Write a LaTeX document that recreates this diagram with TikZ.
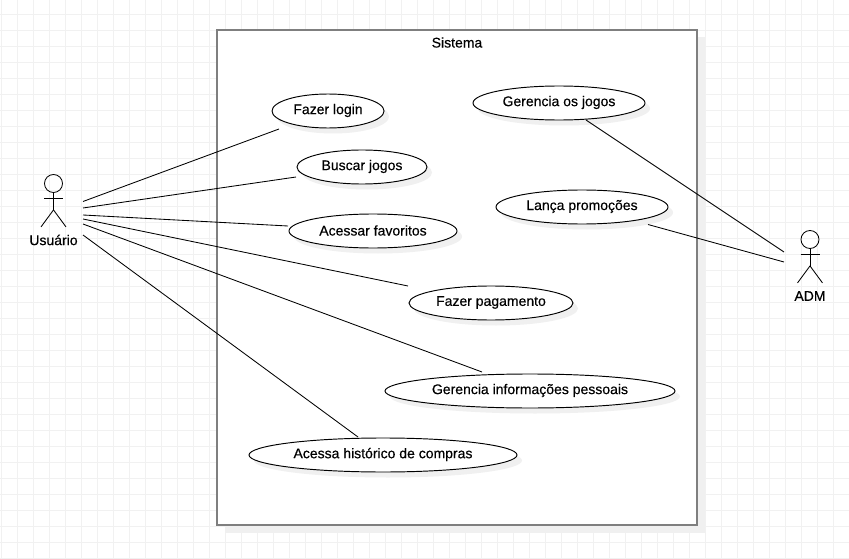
\documentclass[tikz,border=0pt]{standalone}
\usepackage{fontspec}
\setmainfont{Liberation Sans}[RawFeature={embolden=0.35}]
\definecolor{gridc}{HTML}{F1F1F1}
\definecolor{shadowc}{HTML}{F0F0F0}
\definecolor{sysc}{HTML}{7F7F7F}
\tikzset{
  x=1pt,y=-1pt,
  label/.style={font=\fontsize{14}{16}\selectfont,inner sep=0pt},
  link/.style={draw=black,line width=0.85pt},
  stick/.style={draw=black,line width=0.85pt},
  ucshape/.style={draw=black,line width=0.95pt,fill=white},
  ucshadow/.style={fill=shadowc,draw=none},
}
\newcommand{\ucase}[6]{% name, cx, cy, rx, ry, text
  \fill[ucshadow] (#2+5,#3+6) ellipse [x radius=#4,y radius=#5];
  \draw[ucshape] (#2,#3+0.5) ellipse [x radius=#4,y radius=#5];
  \node[label,text=black] (#1) at (#2,#3) {#6};
}
\newcommand{\stickman}[3]{% name, cx, head cy
  \node[circle,stick,minimum size=18pt,inner sep=0pt] (#1) at (#2,#3) {};
  \draw[stick] (#1.south) -- ++(0,17) coordinate (#1hip);
  \draw[stick] (#2-9.5,#3+15) -- (#2+9.5,#3+15);
  \draw[stick] (#1hip) -- ++(-12.5,17);
  \draw[stick] (#1hip) -- ++(12.5,17);
}
\begin{document}
\begin{tikzpicture}
\useasboundingbox (0,0) rectangle (849,559);
\fill[white] (0,0) rectangle (849,559);
\foreach \k in {0,...,53} \draw[gridc,line width=1pt] ({1.7+16*\k},0) -- ({1.7+16*\k},559);
\foreach \k in {1,...,35} \draw[gridc,line width=1pt] (0,{-1.3+16*\k}) -- (849,{-1.3+16*\k});
% system
\fill[shadowc] (224.5,37.5) rectangle (704.5,532.5);
\node[draw=sysc,line width=2pt,fill=white,inner sep=0pt,minimum width=480pt,minimum height=495pt,anchor=north west] (sys) at (216.2,29.2) {};
\node[label,text=black] (systitle) at (457,42.5) {Sistema};
% use cases
\ucase{login}{328}{110.5}{56}{17}{Fazer login}
\ucase{buscar}{362}{166.5}{65}{17}{Buscar jogos}
\ucase{fav}{373}{230.5}{84}{17}{Acessar favoritos}
\ucase{pag}{491}{302.5}{82}{17}{Fazer pagamento}
\ucase{info}{530}{390.5}{145}{17}{Gerencia informações pessoais}
\ucase{hist}{383}{454.5}{134}{17}{Acessa histórico de compras}
\ucase{jogos}{559}{102.5}{86}{17}{Gerencia os jogos}
\ucase{promo}{582}{206.5}{86}{17}{Lança promoções}
% actors
\stickman{user}{53.5}{183.5}
\node[label,text=black] (userlabel) at (53.5,240) {Usuário};
\stickman{adm}{810}{239.5}
\node[label,text=black] (admlabel) at (810,296) {ADM};
% connector ends
\coordinate (u1) at (83,201.5);
\coordinate (u2) at (83,208);
\coordinate (u3) at (83,215);
\coordinate (u4) at (83,219);
\coordinate (u5) at (83,224);
\coordinate (u6) at (83,235);
\coordinate (e1) at (279,129);
\coordinate (e2) at (296,177);
\coordinate (e3) at (288,226);
\coordinate (e4) at (408,286);
\coordinate (e5) at (482,372);
\coordinate (e6) at (358,437);
\coordinate (a1) at (784,252);
\coordinate (a2) at (784,262);
\coordinate (e7) at (586,120);
\coordinate (e8) at (648,224.5);
\draw[link] (u1) -- (e1);
\draw[link] (u2) -- (e2);
\draw[link] (u3) -- (e3);
\draw[link] (u4) -- (e4);
\draw[link] (u5) -- (e5);
\draw[link] (u6) -- (e6);
\draw[link] (e7) -- (a1);
\draw[link] (e8) -- (a2);
\end{tikzpicture}
\end{document}
